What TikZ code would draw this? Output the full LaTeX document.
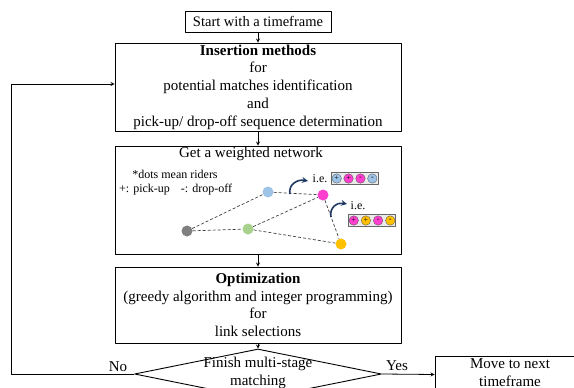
\documentclass[tikz,border=0pt]{standalone}
\usepackage{fontspec}
\setmainfont{Liberation Serif}
\usetikzlibrary{shapes.geometric}
\definecolor{dotblue}{HTML}{9DC3E6}
\definecolor{dotpink}{HTML}{FF3FCF}
\definecolor{dotgray}{HTML}{7F7F7F}
\definecolor{dotgreen}{HTML}{A9D18E}
\definecolor{dotgold}{HTML}{FFC000}
\definecolor{curlnavy}{HTML}{203864}
\begin{document}
\begin{tikzpicture}[x=1pt, y=-1pt, font=\fontsize{15}{17.7}\selectfont, line join=round, >=stealth,
		block/.style={draw, line width=0.9pt, inner sep=0pt, align=center, minimum width=286pt},
		rider/.style={circle, fill=#1, inner sep=0pt, minimum size=11pt},
		chip/.style={circle, draw=black!70, line width=0.3pt, fill=#1, inner sep=0pt, minimum size=9.5pt, font=\fontsize{8}{8}\selectfont},
		seqbox/.style={draw=black!60, fill=black!8, line width=0.9pt, inner sep=0pt, minimum width=47pt, minimum height=11.5pt},
		link/.style={densely dashed, line width=0.7pt, black!75},
		small/.style={font=\fontsize{12}{14}\selectfont},
		curl/.style={->, line width=1.6pt, curlnavy}]
	\useasboundingbox (0,0) rectangle (574,388);
	\clip (0,0) rectangle (574,388);
	% flow chart
	\node[block, minimum width=146pt, minimum height=21pt, font=\fontsize{14.5}{17}\selectfont] (start) at (258,21.5) {Start with a timeframe};
	\node[block, minimum height=88pt] (insert) at (258,87) {\textbf{Insertion methods}\\for\\potential matches identification\\and\\pick-up/ drop-off sequence determination};
	\node[block, minimum height=108pt] (network) at (258,200) {};
	\node[block, minimum height=76pt] (optim) at (258,305) {\textbf{Optimization}\\(greedy algorithm and integer programming)\\for\\link selections};
	\node[draw, diamond, line width=0.9pt, inner sep=0pt, minimum width=247pt, minimum height=50pt] (finish) at (258,374) {};
	\node[align=center] (finishtext) at (258,373) {Finish multi-stage\\matching};
	\node[block, minimum width=150pt, minimum height=37pt] (next) at (510,374.5) {};
	\node[align=center] (nexttext) at (510,372.5) {Move to next\\timeframe};
	\node (no) at (118,367) {No};
	\node (yes) at (397,366) {Yes};
	\coordinate (loop) at (11,374);
	\draw[->, line width=0.8pt] (start) -- (insert);
	\draw[->, line width=0.8pt] (insert) -- (network);
	\draw[->, line width=0.8pt] (network) -- (optim);
	\draw[->, line width=0.8pt] (optim) -- (finish);
	\draw[->, line width=0.8pt] (finish.east) -- (next.west);
	\draw[->, line width=0.8pt] (finish.west) -- (loop) |- ([yshift=3pt]insert.west);
	% weighted network
	\node (title) at (251,154) {Get a weighted network};
	\node[small] (note) at (175,174) {*dots mean riders};
	\node[small, anchor=west, inner sep=0pt] (legend) at (119,190) {+: pick-up\hspace{11pt}-: drop-off};
	\path (268,192) node[rider=dotblue] (rb) {}
		(323,195) node[rider=dotpink] (rp) {}
		(187,231) node[rider=dotgray] (rg) {}
		(248,229) node[rider=dotgreen] (rn) {}
		(341,244) node[rider=dotgold] (ry) {};
	\foreach \a/\b in {rg/rb, rb/rp, rg/rn, rn/rp, rn/ry, rp/ry} \draw[link] (\a) -- (\b);
	% sequences
	\path (290,194) coordinate (ca0) (308,181) coordinate (ca1)
		(331,217) coordinate (cb0) (347,204) coordinate (cb1);
	\draw[curl] (ca0) .. controls (288,185) and (297,179) .. (ca1);
	\draw[curl] (cb0) .. controls (329,208) and (337,202) .. (cb1);
	\node[small] (iea) at (320,179) {i.e.};
	\node[small] (ieb) at (358,206) {i.e.};
	\node[seqbox] (seqa) at (354.5,178.5) {};
	\node[seqbox] (seqb) at (372,220.5) {};
	\foreach \k/\c/\s in {0/dotblue/+, 1/dotpink/+, 2/dotpink/-, 3/dotblue/-}
		\node[chip=\c] (seqa\k) at ({354.5+(\k-1.5)*11.9},178.5) {\s};
	\foreach \k/\c/\s in {0/dotpink/+, 1/dotgold/+, 2/dotpink/-, 3/dotgold/-}
		\node[chip=\c] (seqb\k) at ({372+(\k-1.5)*12.2},220.5) {\s};
\end{tikzpicture}
\end{document}
